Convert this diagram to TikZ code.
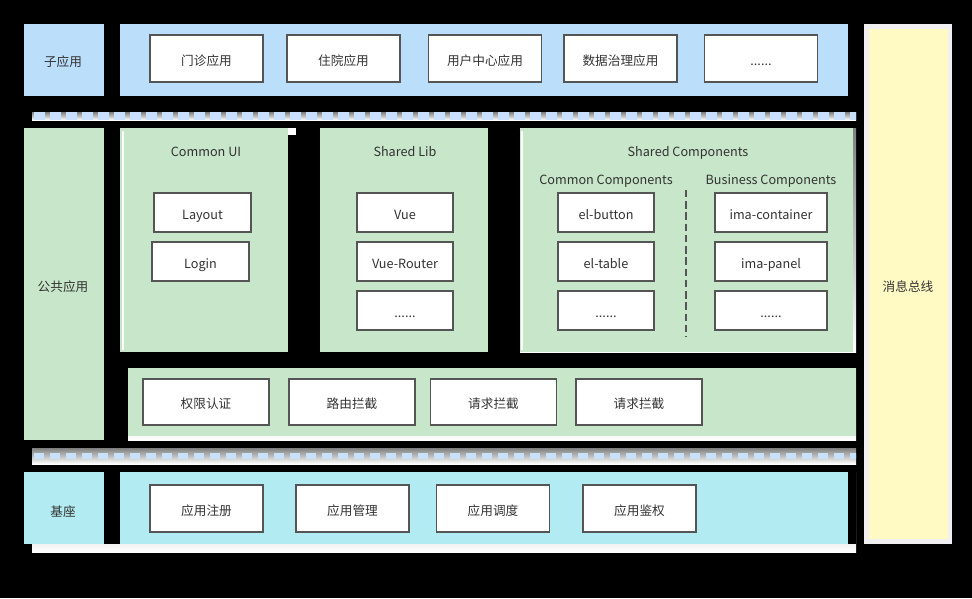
\documentclass[tikz,border=0pt]{standalone}
\usepackage{fontspec}
\setmainfont{Noto Sans CJK SC}
\usepackage{tikz}
\definecolor{subblue}{HTML}{BBDEFB}
\definecolor{pubgreen}{HTML}{C8E6C9}
\definecolor{basecyan}{HTML}{B2EBF2}
\definecolor{busyellow}{HTML}{FFF9C4}
\definecolor{shade}{HTML}{DCDCDC}
\definecolor{sepblue}{HTML}{C8E0FA}
\definecolor{txt}{HTML}{333333}
\definecolor{edge}{HTML}{555555}
\newcommand{\sixdots}{......}
\tikzstyle{label} = [text=txt,font=\fontsize{7.2}{9}\selectfont,inner sep=0pt,text height=8pt,text depth=0.6pt]
\tikzstyle{box} = [label,draw=edge,fill=white,line width=0.6pt,rectangle]
\tikzstyle{appbox} = [box,minimum width=2.26cm,minimum height=0.94cm]
\tikzstyle{midbox} = [box,minimum width=2.52cm,minimum height=0.92cm]
\tikzstyle{libbox} = [box,minimum width=1.92cm,minimum height=0.78cm]
\tikzstyle{imabox} = [box,minimum width=2.24cm,minimum height=0.78cm]

\begin{document}
\begin{tikzpicture}[x=0.02cm,y=-0.02cm]
	\fill[black] (0,0) rectangle (972,598);
	% sub apps
	\fill[subblue] (24,24) rectangle (104,96);
	\fill[subblue] (120,24) rectangle (848,96);
	\node[label] (subapp) at (63,60) {子应用};
	\foreach \x/\t/\n in {206.5/门诊应用/mz,343.5/住院应用/zy,485/用户中心应用/yh,620.5/数据治理应用/sj,761/\sixdots/subetc} {
		\node[appbox] (\n) at (\x,58.5) {\t};
	}
	\fill[shade] (32,112) rectangle (856,120);
	\begin{scope}
		\clip (32,112) rectangle (856,120);
		\foreach \x in {0,...,51} {
			\fill[sepblue] (34+\x*16,112) rectangle ++(11,8);
		}
	\end{scope}

	% public apps
	\fill[pubgreen] (24,128) rectangle (104,440);
	\node[label] (pubapp) at (63,285) {公共应用};
	\fill[pubgreen] (120,128) rectangle (288,352);
	\fill[white] (288,128) rectangle (296,135);
	\draw[white,line width=0.6pt] (123,131) -- (123,350);
	\fill[pubgreen] (320,128) rectangle (488,352);
	\fill[shade] (520,128) rectangle (856,352);
	\fill[pubgreen] (520,128) rectangle (853,352);
	\draw[white,line width=0.6pt] (522,131) -- (522,350);
	\node[label] (commonui) at (206,150) {Common UI};
	\node[libbox,minimum width=1.94cm] (layout) at (202.5,212.5) {Layout};
	\node[libbox,minimum width=1.94cm] (login) at (200.5,261.5) {Login};
	\node[label] (sharedlib) at (405,150) {Shared Lib};
	\node[libbox] (vue) at (405,212.5) {Vue};
	\node[libbox] (router) at (405,261.5) {Vue-Router};
	\node[libbox] (libetc) at (405,310.5) {\sixdots};
	\node[label] (sharedcomp) at (688,150) {Shared Components};
	\node[label] (commoncomp) at (606,178) {Common Components};
	\node[label] (bizcomp) at (771,178) {Business Components};
	\node[libbox] (button) at (606,212.5) {el-button};
	\node[libbox] (table) at (606,261.5) {el-table};
	\node[libbox] (competc) at (606,310.5) {\sixdots};
	\node[imabox] (container) at (771,212.5) {ima-container};
	\node[imabox] (panel) at (771,261.5) {ima-panel};
	\node[imabox] (imaetc) at (771,310.5) {\sixdots};
	\coordinate (divtop) at (686,190);
	\coordinate (divbot) at (686,337);
	\draw[edge,line width=1.1pt,dash pattern=on 4.2pt off 2.2pt] (divtop) -- (divbot);

	\fill[shade] (128,368) rectangle (856,440);
	\fill[pubgreen] (128,368) rectangle (856,436);
	\foreach \x/\t/\n in {206/权限认证/auth,352/路由拦截/route,493.5/请求拦截/reqa,639/请求拦截/reqb} {
		\node[midbox] (\n) at (\x,402) {\t};
	}
	\fill[shade] (32,448) rectangle (856,464);
	\begin{scope}
		\clip (32,448) rectangle (856,464);
		\foreach \x in {0,...,51} {
			\fill[sepblue] (34+\x*16,453) rectangle ++(10,6);
		}
	\end{scope}

	% base
	\fill[shade] (32,472) rectangle (856,552);
	\fill[black] (32,472) rectangle (120,544);
	\fill[black] (848,472) rectangle (856,544);
	\fill[basecyan] (24,472) rectangle (104,544);
	\fill[basecyan] (120,472) rectangle (848,544);
	\node[label] (base) at (63,510) {基座};
	\foreach \x/\t/\n in {206.5/应用注册/reg,352.5/应用管理/mgr,493/应用调度/sch,639.5/应用鉴权/acl} {
		\node[appbox] (\n) at (\x,508.5) {\t};
	}

	% message bus
	\fill[white!94!black] (864,24) rectangle (952,544);
	\fill[busyellow] (869,29) rectangle (948,539);
	\node[label] (bus) at (908,285) {消息总线};
\end{tikzpicture}
\end{document}
